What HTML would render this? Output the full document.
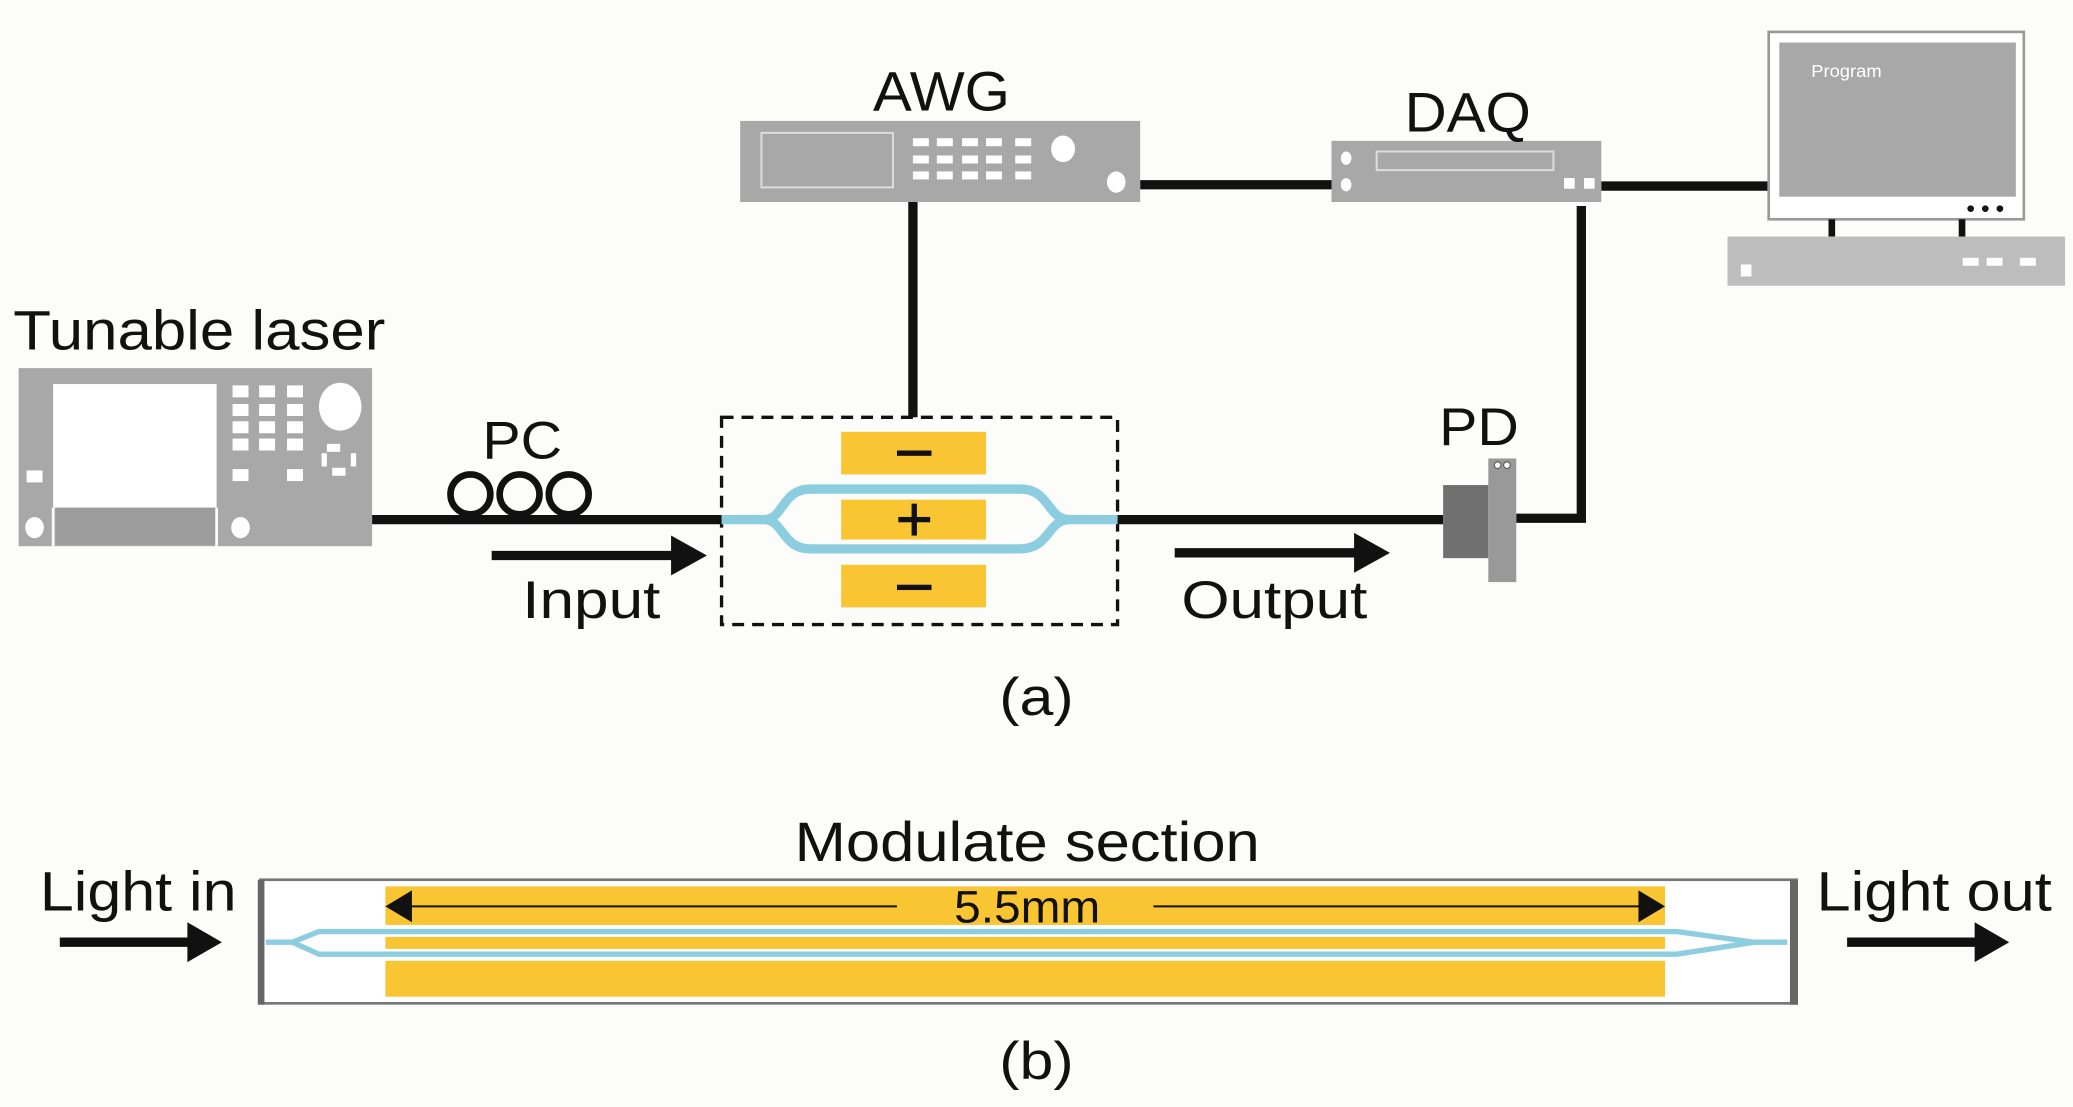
<!DOCTYPE html>
<html><head><meta charset="utf-8"><style>
html,body{margin:0;padding:0;background:#fcfcfa;}
svg{display:block;}
text{font-family:"Liberation Sans",Arial,sans-serif;fill:#111;}
</style></head><body>
<svg width="2073" height="1107" viewBox="0 0 1560 833" preserveAspectRatio="none" xmlns="http://www.w3.org/2000/svg">
<rect width="1560" height="833" fill="#fcfcfa"/>
<!-- connectors -->
<g stroke="#111" stroke-width="7" fill="none">
<line x1="280" y1="391" x2="543" y2="391"/>
<line x1="841" y1="391" x2="1086" y2="391"/>
<polyline points="1141,390 1190,390 1190,155"/>
<line x1="687" y1="152" x2="687" y2="314"/>
<line x1="858" y1="139" x2="1002" y2="139"/>
<line x1="1205" y1="140" x2="1332" y2="140"/>
<line x1="370" y1="418" x2="508" y2="418"/>
<line x1="884" y1="416" x2="1022" y2="416"/>
<line x1="45" y1="709" x2="145" y2="709"/>
<line x1="1390" y1="709" x2="1490" y2="709"/>
</g>
<g fill="#111">
<polygon points="505,403 532,418 505,433"/>
<polygon points="1019,401 1046,416 1019,431"/>
<polygon points="141,694 167,709 141,724"/>
<polygon points="1486,694 1512,709 1486,724"/>
</g>
<!-- PC -->
<g stroke="#111" stroke-width="5" fill="none">
<circle cx="354" cy="372" r="15"/><circle cx="391" cy="372" r="15"/><circle cx="428" cy="372" r="15"/>
</g>
<!-- Laser -->
<rect x="14" y="277" width="266" height="134" fill="#a8a8a8"/>
<rect x="40" y="289" width="123" height="93" fill="#fff"/>
<rect x="42" y="382" width="120" height="28" fill="#9c9c9c"/>
<line x1="40" y1="382" x2="40" y2="411" stroke="#fff" stroke-width="2"/>
<line x1="163" y1="382" x2="163" y2="411" stroke="#fff" stroke-width="2"/>
<g fill="#fff">
<rect x="175" y="290" width="12" height="9"/><rect x="195" y="290" width="12" height="9"/><rect x="216" y="290" width="12" height="9"/>
<rect x="175" y="304" width="12" height="9"/><rect x="195" y="304" width="12" height="9"/><rect x="216" y="304" width="12" height="9"/>
<rect x="175" y="317" width="12" height="9"/><rect x="195" y="317" width="12" height="9"/><rect x="216" y="317" width="12" height="9"/>
<rect x="175" y="330" width="12" height="9"/><rect x="195" y="330" width="12" height="9"/><rect x="216" y="330" width="12" height="9"/>
<rect x="175" y="353" width="12" height="9"/><rect x="216" y="353" width="12" height="9"/><rect x="20" y="354" width="12" height="9"/>
<rect x="250" y="352" width="10" height="6"/><rect x="246" y="334" width="10" height="6"/>
<rect x="242" y="341" width="4" height="10"/><rect x="264" y="341" width="4" height="10"/>
<ellipse cx="256" cy="306" rx="16" ry="18"/>
<ellipse cx="26" cy="397" rx="7" ry="8"/><ellipse cx="181" cy="397" rx="7" ry="8"/>
</g>
<!-- AWG -->
<rect x="557" y="91" width="301" height="61" fill="#a8a8a8"/>
<rect x="573" y="100" width="99" height="41" fill="none" stroke="#ddd" stroke-width="1.5"/>
<g fill="#fff">
<rect x="687" y="104" width="12" height="6"/><rect x="705" y="104" width="12" height="6"/><rect x="724" y="104" width="12" height="6"/><rect x="742" y="104" width="12" height="6"/><rect x="764" y="104" width="12" height="6"/>
<rect x="687" y="117" width="12" height="6"/><rect x="705" y="117" width="12" height="6"/><rect x="724" y="117" width="12" height="6"/><rect x="742" y="117" width="12" height="6"/><rect x="764" y="117" width="12" height="6"/>
<rect x="687" y="129" width="12" height="6"/><rect x="705" y="129" width="12" height="6"/><rect x="724" y="129" width="12" height="6"/><rect x="742" y="129" width="12" height="6"/><rect x="764" y="129" width="12" height="6"/>
<ellipse cx="800" cy="112" rx="9" ry="10"/><ellipse cx="840" cy="137" rx="7" ry="8"/>
</g>
<!-- DAQ -->
<rect x="1002" y="106" width="203" height="46" fill="#a8a8a8"/>
<rect x="1036" y="114" width="133" height="14" fill="none" stroke="#ddd" stroke-width="1.5"/>
<g fill="#fff"><ellipse cx="1013" cy="119" rx="4" ry="5"/><ellipse cx="1013" cy="139" rx="4" ry="5"/>
<rect x="1177" y="134" width="8" height="8"/><rect x="1192" y="134" width="8" height="8"/></g>
<!-- Monitor -->
<rect x="1331" y="24" width="192" height="141" fill="#fff" stroke="#999" stroke-width="2"/>
<rect x="1339" y="32" width="178" height="116" fill="#a8a8a8"/>
<text x="1363" y="58" font-size="13" textLength="53" lengthAdjust="spacingAndGlyphs" style="fill:#fff">Program</text>
<g fill="#111"><circle cx="1483" cy="157" r="2.5"/><circle cx="1494" cy="157" r="2.5"/><circle cx="1505" cy="157" r="2.5"/></g>
<rect x="1376" y="165" width="5" height="13" fill="#111"/><rect x="1474" y="165" width="5" height="13" fill="#111"/>
<rect x="1300" y="178" width="254" height="37" fill="#bdbdbd"/>
<g fill="#fff"><rect x="1310" y="199" width="8" height="9"/><rect x="1477" y="194" width="12" height="6"/><rect x="1495" y="194" width="12" height="6"/><rect x="1520" y="194" width="12" height="6"/></g>
<!-- PD -->
<rect x="1086" y="365" width="34" height="55" fill="#707070"/>
<rect x="1120" y="345" width="21" height="93" fill="#999"/>
<g fill="#fff" stroke="#555" stroke-width="0.8"><circle cx="1127" cy="350" r="2.5"/><circle cx="1134" cy="350" r="2.5"/></g>
<!-- MZM (a) -->
<rect x="543" y="314" width="298" height="156" fill="none" stroke="#111" stroke-width="2.5" stroke-dasharray="9,6"/>
<g fill="#f9c532"><rect x="633" y="325" width="109" height="32"/><rect x="633" y="376" width="109" height="30"/><rect x="633" y="425" width="109" height="32"/></g>
<g stroke="#8ccde0" stroke-width="7" fill="none">
<path d="M543 391 H575 C590 391 588 368 610 368 H768 C790 368 788 391 805 391 H841"/>
<path d="M575 391 C590 391 588 413 610 413 H768 C790 413 788 391 805 391"/>
</g>
<g fill="#111"><rect x="675" y="339" width="26" height="4"/><rect x="675" y="440" width="26" height="4"/>
<rect x="676" y="389" width="24" height="4"/><rect x="686" y="379" width="4" height="24"/></g>
<!-- labels (a) -->
<text x="10" y="263" font-size="42" textLength="280" lengthAdjust="spacingAndGlyphs">Tunable laser</text>
<text x="363" y="345" font-size="40" textLength="60" lengthAdjust="spacingAndGlyphs">PC</text>
<text x="393" y="465" font-size="40" textLength="104" lengthAdjust="spacingAndGlyphs">Input</text>
<text x="889" y="465" font-size="40" textLength="140" lengthAdjust="spacingAndGlyphs">Output</text>
<text x="1083" y="335" font-size="40" textLength="60" lengthAdjust="spacingAndGlyphs">PD</text>
<text x="657" y="83" font-size="42" textLength="103" lengthAdjust="spacingAndGlyphs">AWG</text>
<text x="1057" y="99" font-size="42" textLength="95" lengthAdjust="spacingAndGlyphs">DAQ</text>
<text x="752" y="538" font-size="40" textLength="56" lengthAdjust="spacingAndGlyphs">(a)</text>
<!-- (b) -->
<text x="598" y="648" font-size="42" textLength="350" lengthAdjust="spacingAndGlyphs">Modulate section</text>
<rect x="196" y="662" width="1156" height="93" fill="#fff" stroke="#777" stroke-width="2"/>
<rect x="194" y="662" width="5" height="94" fill="#666"/><rect x="1347" y="662" width="6" height="94" fill="#666"/>
<g fill="#f9c532"><rect x="290" y="667" width="963" height="29"/><rect x="290" y="705" width="963" height="9"/><rect x="290" y="723" width="963" height="27"/></g>
<g stroke="#8ccde0" stroke-width="4" fill="none">
<path d="M200 709 H220 L240 701 H1262 L1320 709 H1345"/>
<path d="M220 709 L240 718 H1262 L1320 709"/>
</g>
<g stroke="#111" stroke-width="1.5"><line x1="300" y1="682" x2="675" y2="682"/><line x1="868" y1="682" x2="1245" y2="682"/></g>
<polygon points="290,682 310,670 310,694" fill="#111"/>
<polygon points="1253,682 1233,670 1233,694" fill="#111"/>
<text x="718" y="694" font-size="34" textLength="110" lengthAdjust="spacingAndGlyphs">5.5mm</text>
<text x="30" y="685" font-size="42" textLength="148" lengthAdjust="spacingAndGlyphs">Light in</text>
<text x="1367" y="685" font-size="42" textLength="177" lengthAdjust="spacingAndGlyphs">Light out</text>
<text x="752" y="812" font-size="40" textLength="56" lengthAdjust="spacingAndGlyphs">(b)</text>
</svg>
</body></html>
